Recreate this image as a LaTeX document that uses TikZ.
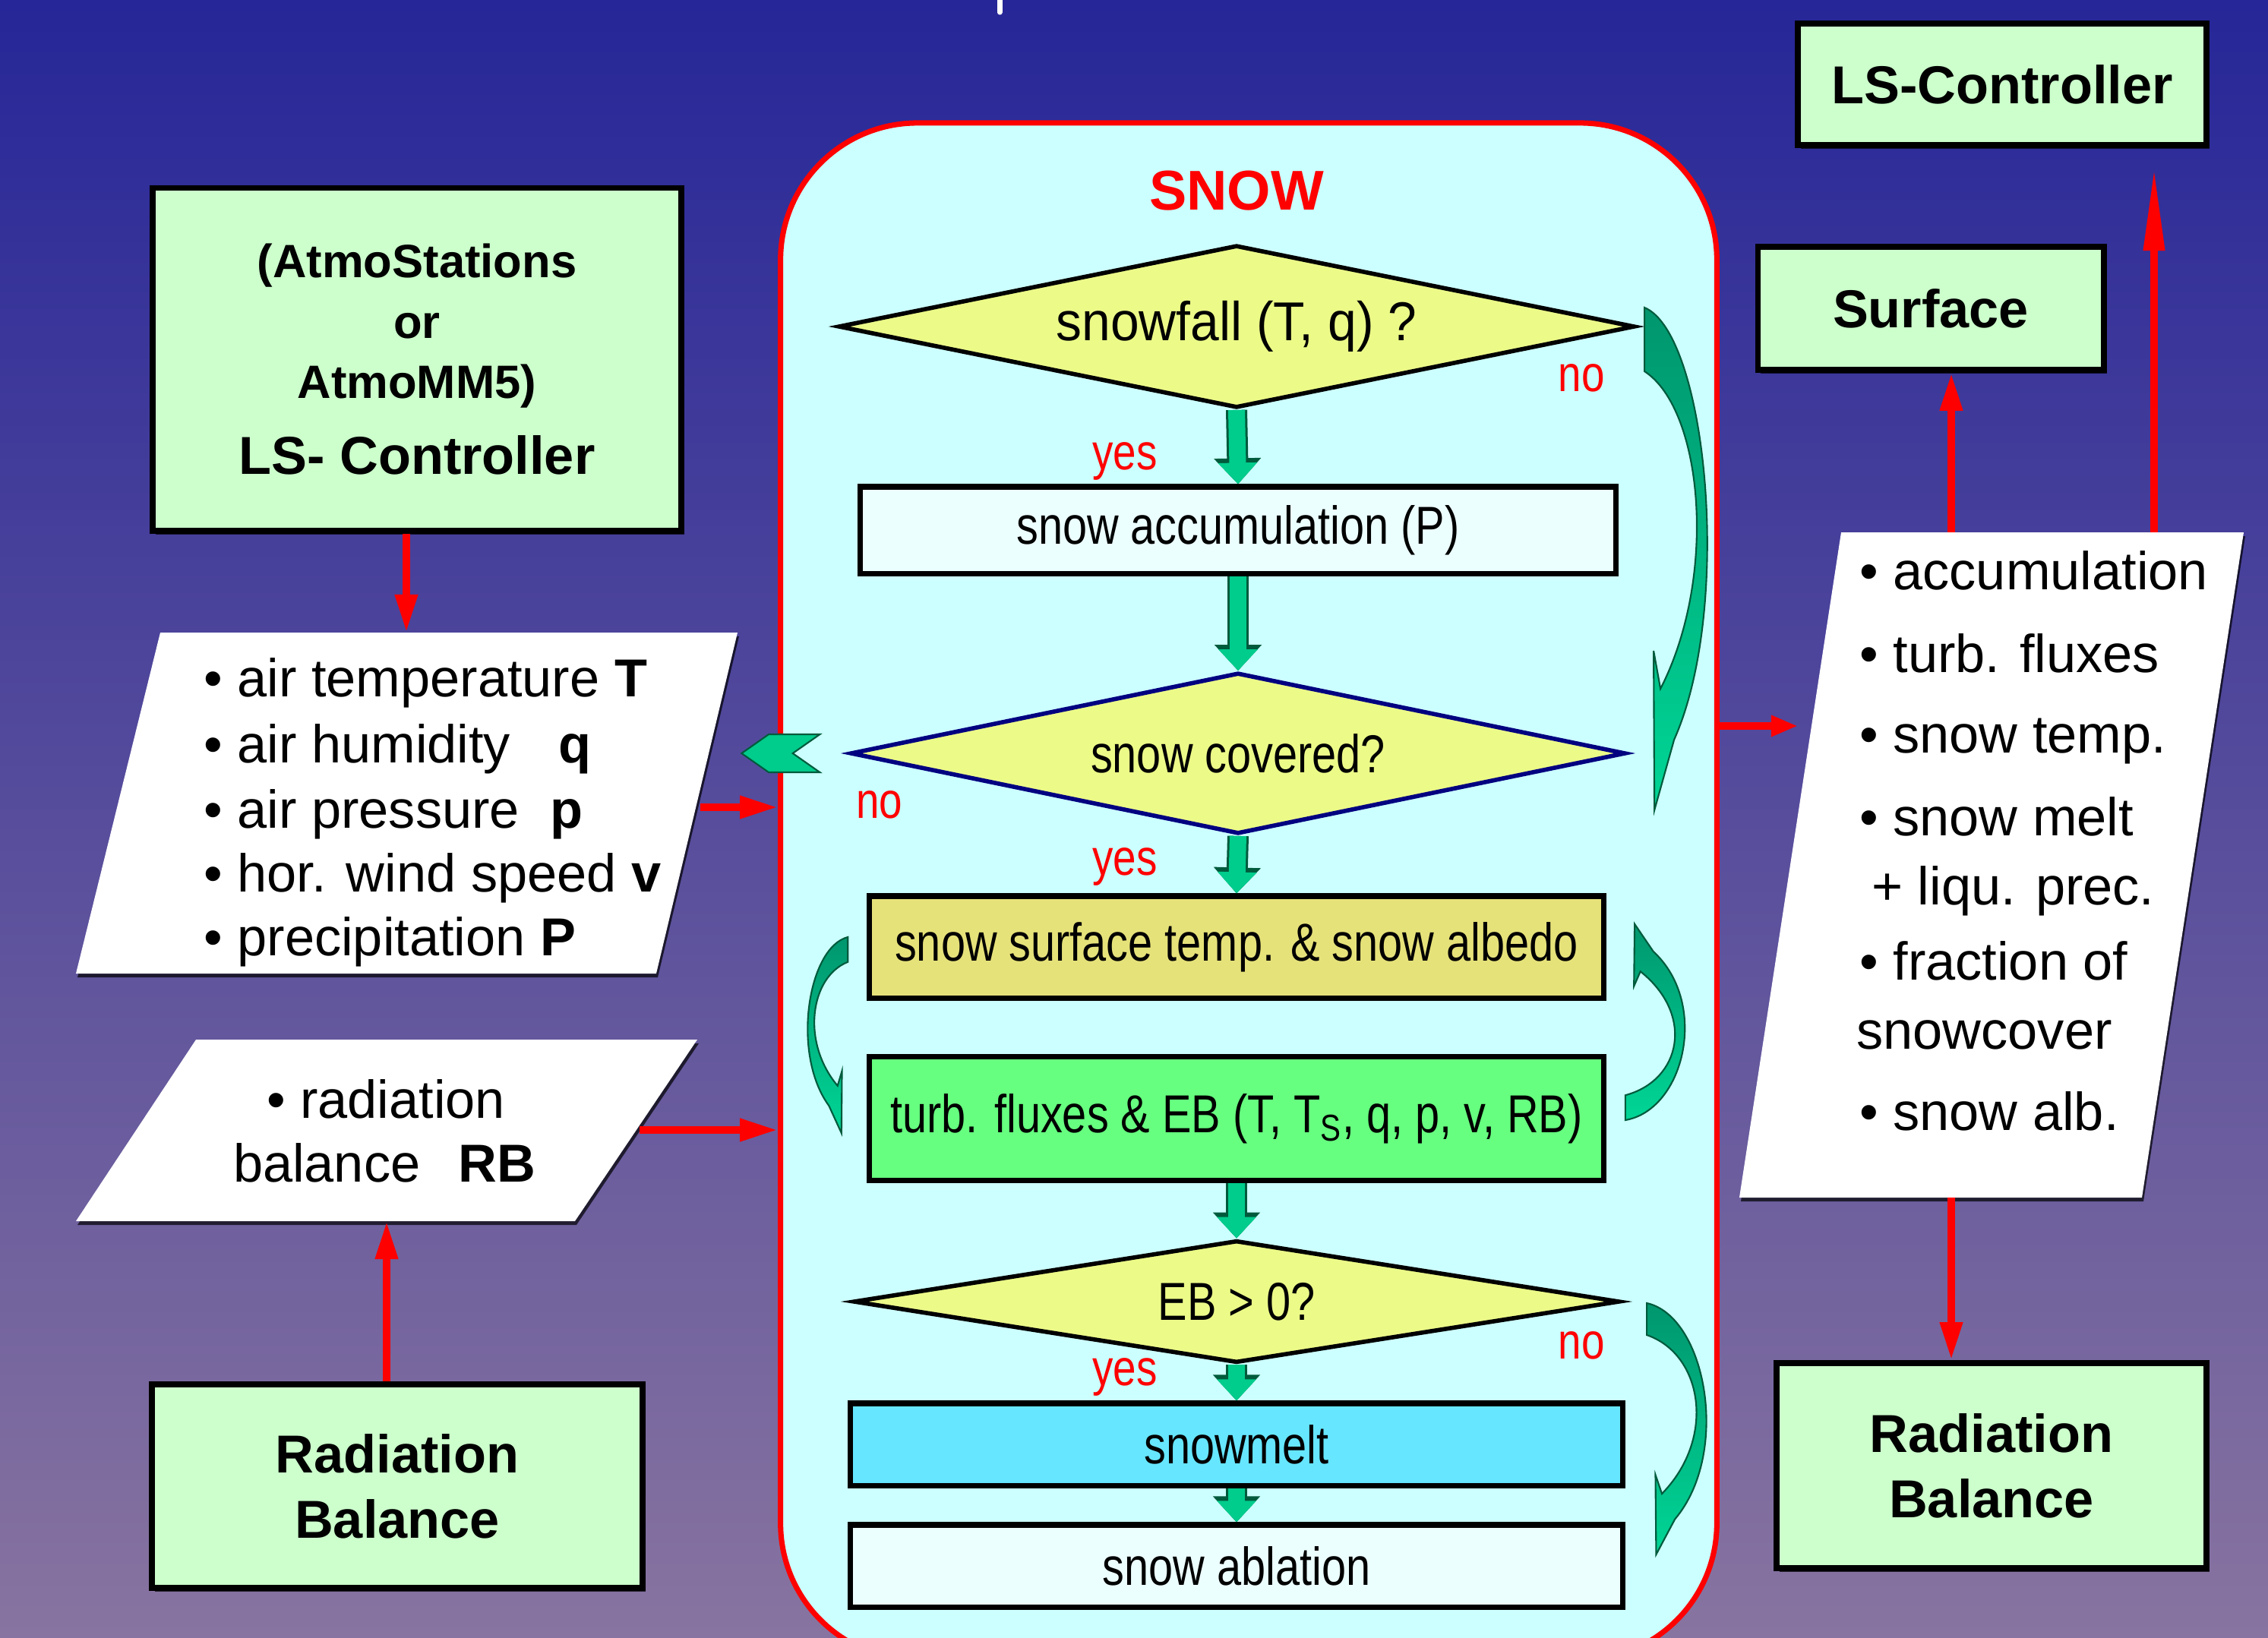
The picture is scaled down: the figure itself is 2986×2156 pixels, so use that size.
\documentclass[tikz,border=0pt]{standalone}
\usepackage{fontspec}
\setmainfont{Liberation Sans}
\newfontfamily\narrowfont[FakeStretch=0.82]{Liberation Sans}
\newfontfamily\semifont[FakeStretch=0.94]{Liberation Sans}
\usetikzlibrary{shapes.geometric,shapes.symbols,arrows.meta,calc,shadows}

\definecolor{bgtop}{RGB}{38,38,152}
\definecolor{bgmid}{RGB}{72,64,158}
\definecolor{bgbot}{RGB}{136,116,160}
\definecolor{boxgreen}{RGB}{204,255,204}
\definecolor{snowfill}{RGB}{204,255,255}
\definecolor{palecyan}{RGB}{236,255,255}
\definecolor{decyellow}{RGB}{236,250,136}
\definecolor{decnavy}{RGB}{0,0,128}
\definecolor{khaki}{RGB}{230,226,122}
\definecolor{fluxgreen}{RGB}{102,255,128}
\definecolor{meltblue}{RGB}{102,230,255}
\definecolor{flowgreen}{RGB}{0,204,140}
\definecolor{flowdark}{RGB}{0,90,60}
\definecolor{bentdark}{RGB}{0,150,110}
\definecolor{bentlight}{RGB}{0,214,150}

\tikzset{
  gbox/.style={draw=black, line width=2.2pt, fill=boxgreen, align=center,
    font=\bfseries\fontsize{20}{24.5}\selectfont,
    drop shadow={shadow xshift=0.04cm, shadow yshift=-0.05cm, fill=black, opacity=0.7}},
  snowbox/.style={draw=red, line width=2pt, fill=snowfill, rounded corners=1.8cm},
  flowbox/.style={draw=black, line width=2pt, font=\narrowfont\fontsize{20}{24}\selectfont},
  decision/.style={diamond, aspect=5, inner sep=0pt, draw=black, line width=1.6pt,
    fill=decyellow, font=\narrowfont\fontsize{20}{24}\selectfont},
  lbl/.style={text=red, font=\narrowfont\fontsize{19}{22}\selectfont},
  listline/.style={anchor=base west, font=\fontsize{20}{24}\selectfont},
  paper/.style={fill=white,
    drop shadow={shadow xshift=0.02cm, shadow yshift=-0.05cm, fill=black, opacity=0.7}},
  redarr/.style={draw=red, line width=0.1cm, -{Triangle[length=0.5cm,width=0.28cm]}},
  flowarr/.style={draw=flowgreen, line width=0.22cm, -{Triangle[length=0.28cm,width=0.5cm]},
    preaction={draw=flowdark, line width=0.28cm, -{Triangle[length=0.34cm,width=0.6cm]}}},
  bentarr/.style={draw=flowdark, line width=0.6pt, top color=bentdark, bottom color=bentlight}
}

% curved block arrow, tail at the origin, head at the bottom
\newcommand{\bentarrow}{%
  \filldraw[bentarr] (0,0) .. controls (82,34) and (117,394) .. (39,569)
    -- (13,662) -- (12,452) -- (21,502)
    .. controls (97,354) and (77,134) .. (0,84) -- cycle;}

\begin{document}
\begin{tikzpicture}[x=0.01cm, y=-0.01cm]
  \useasboundingbox (0,0) rectangle (2986,2156);
  %% background
  \shade[top color=bgtop, middle color=bgmid, bottom color=bgbot] (0,0) rectangle (2986,2156);
  \draw[white, line width=0.07cm, line cap=round] (1316,0) -- (1316,16);

  %% snow module
  \node[snowbox, minimum width=12.32cm, minimum height=20.23cm] (snow) at (1644,1174) {};
  \node[text=red, font=\bfseries\fontsize{21}{24}\selectfont] (snowtitle) at (1628,251) {SNOW};

  \node[decision, minimum width=10.48cm, minimum height=2.14cm,
    font=\semifont\fontsize{20.5}{24}\selectfont] (d1) at (1628,430) {snowfall (T, q) ?};
  \node[flowbox, fill=palecyan, minimum width=9.95cm, minimum height=1.14cm] (acc) at (1630,698) {snow accumulation (P)};
  \node[decision, draw=decnavy, minimum width=10.2cm, minimum height=2.12cm] (d2) at (1630,992) {snow covered?};
  \node[flowbox, fill=khaki, minimum width=9.66cm, minimum height=1.34cm] (alb) at (1628,1247) {snow surface temp. \& snow albedo};
  \node[flowbox, fill=fluxgreen, minimum width=9.66cm, minimum height=1.62cm] (turb) at (1628,1473) {turb. fluxes \& EB (T, T\textsubscript{S}, q, p, v, RB)};
  \node[decision, minimum width=10.08cm, minimum height=1.61cm] (d3) at (1628,1714) {EB > 0?};
  \node[flowbox, fill=meltblue, minimum width=10.16cm, minimum height=1.08cm] (melt) at (1628,1902) {snowmelt};
  \node[flowbox, fill=palecyan, minimum width=10.16cm, minimum height=1.08cm] (abl) at (1628,2062) {snow ablation};

  \node[lbl] (yes1) at (1481,607) {yes};
  \node[lbl] (no1) at (2082,498) {no};
  \node[lbl] (no2) at (1158,1060) {no};
  \node[lbl] (yes2) at (1481,1141) {yes};
  \node[lbl] (yes3) at (1481,1813) {yes};
  \node[lbl] (no3) at (2082,1772) {no};

  \draw[flowarr] (d1.south) -- (acc.north);
  \draw[flowarr] (acc.south) -- (d2.north);
  \draw[flowarr] (d2.south) -- (alb.north);
  \draw[flowarr] (turb.south) -- (d3.north);
  \draw[flowarr] (d3.south) -- (melt.north);
  \draw[flowarr] (melt.south) -- (abl.north);

  %% loops
  \begin{scope}[shift={($(d1.east)+(10,-25)$)}] \bentarrow \end{scope}
  \begin{scope}[shift={($(d3.east)+(33,2)$)}, xscale=0.95, yscale=0.5] \bentarrow \end{scope}
  \begin{scope}[shift={($(alb.west)+(-25,-13)$)}, xscale=-0.64, yscale=0.39] \bentarrow \end{scope}
  \begin{scope}[shift={($(turb.east)+(25,2)$)}, xscale=0.95, yscale=-0.39] \bentarrow \end{scope}
  \node[signal, signal to=west, signal from=east, signal pointer angle=70, fill=flowgreen,
    draw=flowdark, line width=0.6pt, inner sep=0pt, minimum width=1.03cm,
    minimum height=0.5cm] (nochev) at ($(d2.west)+(-89,0)$) {};

  %% controllers
  \node[gbox, minimum width=6.96cm, minimum height=4.51cm, font=\bfseries\fontsize{17.5}{22.7}\selectfont]
    (atmo) at (549,473) {(AtmoStations\\or\\AtmoMM5)\\[0.2cm]{\fontsize{20}{24}\selectfont LS- Controller}};
  \node[gbox, minimum width=5.37cm, minimum height=1.6cm] (lsR) at (2636,111) {LS-Controller};
  \node[gbox, minimum width=4.55cm, minimum height=1.62cm] (surf) at (2542,406) {Surface};
  \node[gbox, minimum width=6.45cm, minimum height=2.68cm] (rbL) at (523,1957) {Radiation\\Balance};
  \node[gbox, minimum width=5.65cm, minimum height=2.7cm] (rbR) at (2622,1930) {Radiation\\Balance};

  %% meteorological input
  \coordinate (p1a) at (211,833);
  \coordinate (p1b) at (971,833);
  \coordinate (p1c) at (864,1282);
  \coordinate (p1d) at (100,1282);
  \fill[paper] (p1a) -- (p1b) -- (p1c) -- (p1d) -- cycle;
  \foreach \txt/\yy [count=\i] in {{\textbullet\ air temperature \textbf{T}}/917,
      {\textbullet\ air humidity\hspace{0.63cm}\textbf{q}}/1004,
      {\textbullet\ air pressure\hspace{0.41cm}\textbf{p}}/1090,
      {\textbullet\ hor. wind speed \textbf{v}}/1174,
      {\textbullet\ precipitation \textbf{P}}/1258}
    \node[listline] (met\i) at (256,\yy) {\txt};

  %% radiation input
  \coordinate (p2a) at (258,1369);
  \coordinate (p2b) at (918,1369);
  \coordinate (p2c) at (757,1608);
  \coordinate (p2d) at (100,1608);
  \fill[paper] (p2a) -- (p2b) -- (p2c) -- (p2d) -- cycle;
  \node[listline, anchor=base] (rad1) at (508,1472) {\textbullet\ radiation};
  \node[listline, anchor=base] (rad2) at (506,1556) {balance\hspace{0.5cm}\textbf{RB}};

  %% output
  \coordinate (p3a) at (2424,701);
  \coordinate (p3b) at (2954,701);
  \coordinate (p3c) at (2820,1577);
  \coordinate (p3d) at (2290,1577);
  \fill[paper] (p3a) -- (p3b) -- (p3c) -- (p3d) -- cycle;
  \foreach \txt/\xx/\yy [count=\i] in {{\textbullet\ accumulation}/2436/776,
      {\textbullet\ turb. fluxes}/2436/885,
      {\textbullet\ snow temp.}/2436/991,
      {\textbullet\ snow melt}/2436/1100,
      {+ liqu. prec.}/2452/1191,
      {\textbullet\ fraction of}/2436/1290,
      {snowcover}/2432/1381,
      {\textbullet\ snow alb.}/2436/1488}
    \node[listline] (out\i) at (\xx,\yy) {\txt};

  %% data flow
  \coordinate (atmoin) at (535,833);
  \draw[redarr] (atmo.south -| atmoin) -- (atmoin);
  \coordinate (metout) at (922,1063);
  \draw[redarr] (metout) -- (metout -| snow.west);
  \coordinate (radout) at (842,1488);
  \draw[redarr] (radout) -- (radout -| snow.west);
  \coordinate (radin) at (509,1608);
  \draw[redarr] (rbL.north -| radin) -- (radin);
  \coordinate (outin) at (2367,956);
  \draw[redarr, -{Triangle[length=0.35cm,width=0.26cm]}] (outin -| snow.east) -- (outin);
  \coordinate (surfup) at (2569,701);
  \draw[redarr] (surfup) -- (surfup |- surf.south);
  \coordinate (ctrlup) at (2836,701);
  \draw[redarr, -{Triangle[length=1.1cm,width=0.26cm]}, shorten >=0.25cm] (ctrlup) -- (ctrlup |- lsR.south);
  \coordinate (raddn) at (2569,1577);
  \draw[redarr] (raddn) -- (raddn |- rbR.north);
\end{tikzpicture}
\end{document}
